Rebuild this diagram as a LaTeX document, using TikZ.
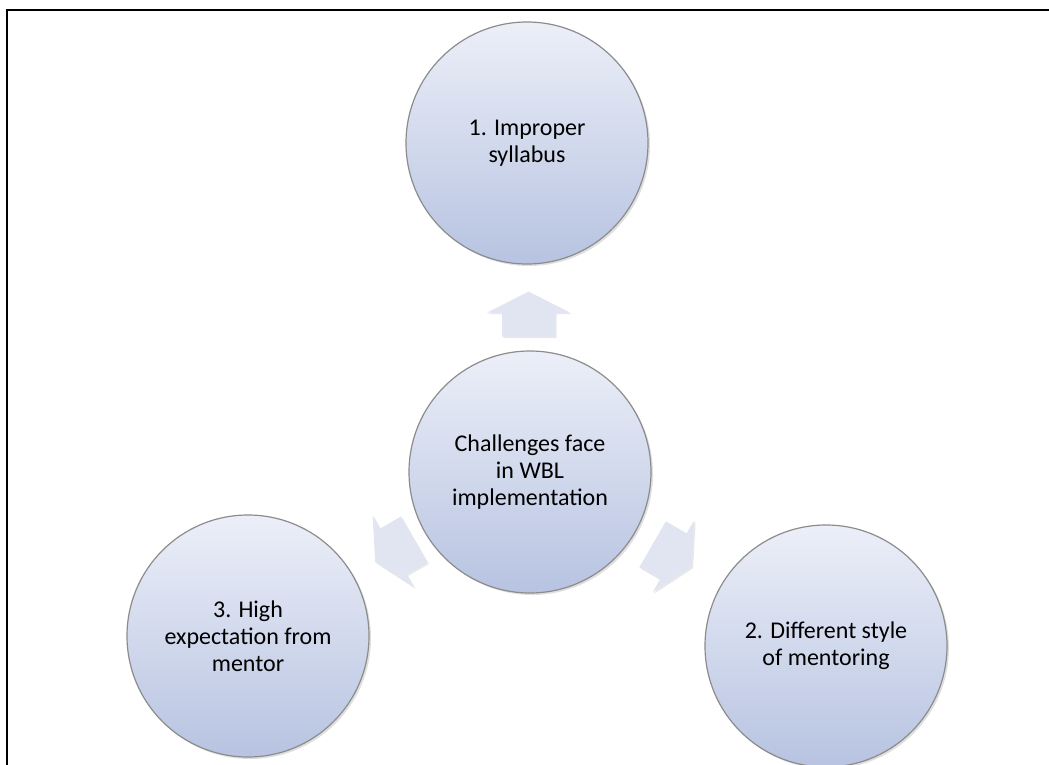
\documentclass[tikz,border=0pt]{standalone}
\usepackage{fontspec}
\setmainfont{Carlito}
\usetikzlibrary{shadows,calc}
\definecolor{circtop}{HTML}{ECEFF8}
\definecolor{circbot}{HTML}{B7C3E1}
\definecolor{circline}{HTML}{8C8C8C}
\definecolor{arrfill}{HTML}{E1E5F1}
\tikzset{
  bubble/.style={circle, minimum size=242pt, inner sep=0pt,
    top color=circtop, bottom color=circbot, draw=circline, line width=1.2pt,
    drop shadow={opacity=0.25, shadow xshift=2pt, shadow yshift=-2pt},
    align=center, font=\fontsize{24}{27}\selectfont},
  blockarrow/.style={fill=arrfill, draw=none,
    drop shadow={opacity=0.18, shadow xshift=1.5pt, shadow yshift=-1.5pt}},
  frameline/.style={line width=2pt, black}
}
\newcommand{\myblockarrow}[2]{%
  \path[blockarrow, shift={(#1)}, rotate=#2]
    (22.5,0) -- (1.5,41.5) -- (1.5,26.5) -- (-22.5,26.5) -- (-22.5,-26.5)
    -- (1.5,-26.5) -- (1.5,-41.5) -- cycle;}
\begin{document}
\begin{tikzpicture}[x=1pt,y=-1pt]
\useasboundingbox (0,0) rectangle (1049,765);
\coordinate (f1) at (7,765);
\coordinate (f2) at (7,10);
\coordinate (f3) at (1049,10);
\draw[frameline] (f1) -- (f2) -- (f3);

\node[bubble] (c) at (530,472) {Challenges face\\in WBL\\implementation};
\node[bubble] (t) at (527,143) {1. Improper\\syllabus};
\node[bubble] (l) at (248,636) {3. High\\expectation from\\mentor};
\node[bubble] (r) at (826,646) {2. Different style\\of mentoring};

\coordinate (at) at ($(c)!0.48!(t)$);
\coordinate (al) at ($(c)!0.48!(l)$);
\coordinate (ar) at ($(c)!0.48!(r)$);
\myblockarrow{at}{90}
\myblockarrow{al}{210}
\myblockarrow{ar}{-30}
\end{tikzpicture}
\end{document}
